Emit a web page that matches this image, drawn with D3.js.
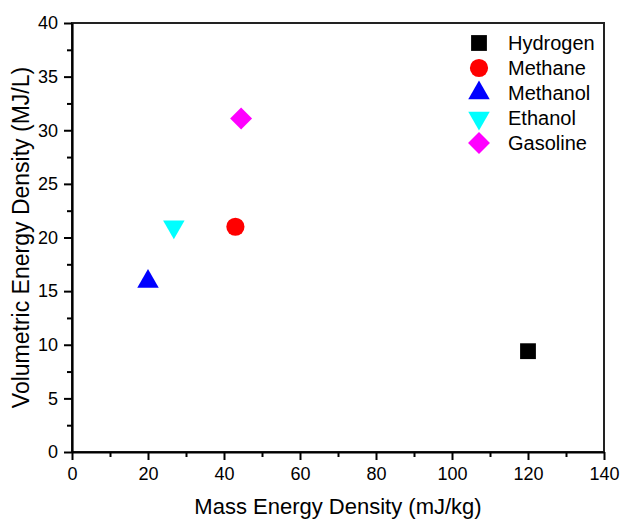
<!DOCTYPE html>
<meta charset="utf-8">
<script src="https://d3js.org/d3.v7.min.js"></script>
<style>
  body { margin: 0; background: #fff; }
  text { font-family: "Liberation Sans", Arial, sans-serif; fill: #000; }
</style>
<div id="chart"></div>
<script>
// data
const fuels = ["Hydrogen", "Methane", "Methanol", "Ethanol", "Gasoline"];
const massDensity = [120, 43, 20, 26.8, 44.5];     // mJ/kg
const volDensity = [9.4, 21, 15.9, 21, 31.1];       // MJ/L
const colors = ["#000000", "#ff0000", "#0000ff", "#00ffff", "#ff00ff"];
const xTicks = [0, 20, 40, 60, 80, 100, 120, 140];
const yTicks = [0, 5, 10, 15, 20, 25, 30, 35, 40];

const W = 621, H = 519;
const margin = {top: 23, right: 17, bottom: 67, left: 72};
const width = W - margin.left - margin.right,
      height = H - margin.top - margin.bottom;

const svg = d3.select("#chart").append("svg")
    .attr("width", W).attr("height", H);
const g = svg.append("g")
    .attr("transform", `translate(${margin.left},${margin.top})`);

const x = d3.scaleLinear().domain([0, 140]).range([0, width]);
const y = d3.scaleLinear().domain([0, 40]).range([height, 0]);

// frame (top & right)
g.append("rect")
    .attr("width", width).attr("height", height)
    .attr("fill", "none").attr("stroke", "#222").attr("stroke-width", 2);

// minor ticks
g.append("g").attr("transform", `translate(0,${height})`)
    .call(d3.axisBottom(x).tickValues(d3.range(10, 140, 20)).tickSize(5).tickFormat(""))
    .call(a => a.select(".domain").remove())
    .selectAll("line").attr("stroke-width", 2);
g.append("g")
    .call(d3.axisLeft(y).tickValues(d3.range(2.5, 40, 5)).tickSize(5).tickFormat(""))
    .call(a => a.select(".domain").remove())
    .selectAll("line").attr("stroke-width", 2);

// major axes
const xAxis = g.append("g").attr("transform", `translate(0,${height})`)
    .call(d3.axisBottom(x).tickValues(xTicks).tickSize(8).tickPadding(7).tickSizeOuter(0));
const yAxis = g.append("g")
    .call(d3.axisLeft(y).tickValues(yTicks).tickSize(8).tickPadding(6).tickSizeOuter(0));
[xAxis, yAxis].forEach(a => {
  a.select(".domain").attr("stroke-width", 2.2).attr("stroke", "#000");
  a.selectAll(".tick line").attr("stroke-width", 2);
  a.selectAll("text").style("font-size", "18px").attr("fill", "#222");
});

// axis titles
svg.append("text")
    .attr("x", margin.left + width / 2).attr("y", 514)
    .attr("text-anchor", "middle").style("font-size", "22px").attr("fill", "#222")
    .text("Mass Energy Density (mJ/kg)");
svg.append("text")
    .attr("transform", `translate(29,${margin.top + height / 2}) rotate(-90)`)
    .attr("text-anchor", "middle").style("font-size", "23px").attr("fill", "#222")
    .text("Volumetric Energy Density (MJ/L)");

// marker shapes
const shapes = [
  d3.symbol().type(d3.symbolSquare).size(250),
  d3.symbol().type(d3.symbolCircle).size(260),
  d3.symbol().type(d3.symbolTriangle).size(200),
  d3.symbol().type(d3.symbolTriangle).size(200),
  d3.symbol().type(d3.symbolSquare).size(240)
];
const rot = [0, 0, 0, 180, 45];

g.selectAll(".pt").data(fuels).join("path")
    .attr("class", "pt")
    .attr("d", (d, i) => shapes[i]())
    .attr("fill", (d, i) => colors[i])
    .attr("transform", (d, i) => `translate(${x(massDensity[i])},${y(volDensity[i])}) rotate(${rot[i]})`);

// legend
const leg = svg.append("g").attr("transform", "translate(479,43)");
const item = leg.selectAll("g").data(fuels).join("g")
    .attr("transform", (d, i) => `translate(0,${i * 25})`);
item.append("path")
    .attr("d", (d, i) => shapes[i]())
    .attr("fill", (d, i) => colors[i])
    .attr("transform", (d, i) => `rotate(${rot[i]})`);
item.append("text")
    .attr("x", 29).attr("y", 7)
    .style("font-size", "20px").attr("fill", "#222")
    .text(d => d);
</script>
